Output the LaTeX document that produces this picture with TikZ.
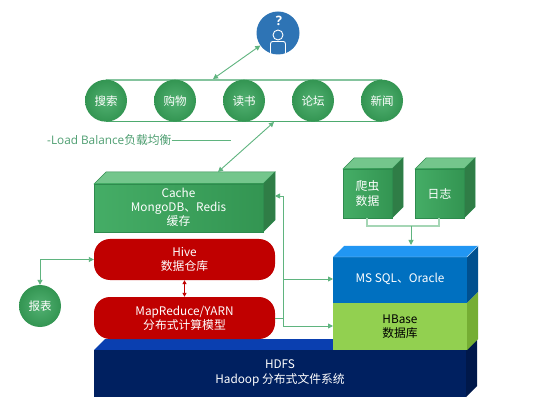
\documentclass[tikz,border=0pt]{standalone}
\usepackage{fontspec}
\setmainfont{Open Sans}
\newfontfamily\cjk{Noto Sans CJK SC}
\usetikzlibrary{arrows.meta}
\definecolor{gmid}{HTML}{3FA862}
\definecolor{gline}{HTML}{5FB47F}
\definecolor{gpale}{HTML}{A5D6B5}
\definecolor{gtop}{HTML}{74C68C}
\definecolor{gside}{HTML}{2F7D46}
\definecolor{gedge}{HTML}{2E8B4E}
\definecolor{gleft}{HTML}{45AD66}
\definecolor{gright}{HTML}{339552}
\definecolor{barup}{HTML}{85C49E}
\definecolor{bardown}{HTML}{4DAA6E}
\definecolor{redbox}{HTML}{C00000}
\definecolor{bfront}{HTML}{0070C0}
\definecolor{btop}{HTML}{2196F3}
\definecolor{bside}{HTML}{00508F}
\definecolor{lfront}{HTML}{92D050}
\definecolor{lside}{HTML}{75AE33}
\definecolor{nfront}{HTML}{002060}
\definecolor{ntop}{HTML}{0A3FB0}
\definecolor{nside}{HTML}{00184A}
\definecolor{lbtext}{HTML}{4F9F72}
\definecolor{person}{HTML}{2E74B5}
\tikzset{
  x=1pt,y=-1pt,
  txt/.style={align=center,text=white,inner sep=0pt,font=\fontsize{11.8}{14.2}\selectfont\cjk},
  dtxt/.style={align=center,text=black,inner sep=0pt,font=\fontsize{11.8}{14.2}\selectfont\cjk},
  site/.style={circle,minimum size=42pt,inner sep=0pt,inner color=gmid!90!white,outer color=gright,text=white,font=\fontsize{11.5}{12}\selectfont\cjk},
  pill/.style={rounded corners=16pt,fill=redbox,draw=none,minimum height=41pt,text width=181pt,inner sep=0pt,align=center,text=white,font=\fontsize{11.8}{14.2}\selectfont\cjk},
  garrow/.style={draw=gline,line width=0.9pt,{Triangle[length=5pt,width=5pt]}-{Triangle[length=5pt,width=5pt]}},
  gsingle/.style={draw=gline,line width=0.9pt,-{Triangle[length=5pt,width=5pt]}},
  gplain/.style={draw=gline,line width=0.9pt},
  gpaleline/.style={draw=gpale,line width=1.1pt},
  greenfront/.style={left color=gleft,right color=gright},
  greentop/.style={fill=gtop,draw=gedge,line width=0.5pt},
  greenside/.style={fill=gside,draw=gedge,line width=0.5pt},
}
\newcommand{\cubefaces}[8]{%
  \fill[#7] (#1,#2) -- (#1+#5,#2-#5) -- (#3+#5,#2-#5) -- (#3,#2) -- cycle;
  \fill[#8] (#3,#2) -- (#3+#5,#2-#5) -- (#3+#5,#4-#5) -- (#3,#4) -- cycle;
  \fill[#6] (#1,#2) rectangle (#3,#4);
}
\newcommand{\greencube}[5]{%
  \draw[greentop] (#1,#2) -- (#1+#5,#2-#5) -- (#3+#5,#2-#5) -- (#3,#2) -- cycle;
  \draw[greenside] (#3,#2) -- (#3+#5,#2-#5) -- (#3+#5,#4-#5) -- (#3,#4) -- cycle;
  \shade[greenfront] (#1,#2) rectangle (#3,#4);
  \draw[gedge,line width=0.5pt] (#1,#2) rectangle (#3,#4);
}
\begin{document}
\begin{tikzpicture}
\useasboundingbox (0,0) rectangle (535,403);
\fill[white] (0,0) rectangle (535,403);

% HDFS
\cubefaces{94}{350}{466}{397}{11}{nfront}{ntop}{nside}
\node[txt] (hdfs) at (280,373) {HDFS\\Hadoop 分布式文件系统};

% MS SQL / HBase
\cubefaces{333}{257}{467}{303}{11}{bfront}{btop}{bside}
\fill[lside] (467,303) -- (478,292) -- (478,339) -- (467,350) -- cycle;
\fill[lfront] (333,303) rectangle (467,350);
\draw[white!70!bfront,line width=0.4pt] (333,257) -- (467,257) (467,257) -- (478,246);
\node[txt] (sql) at (400,279) {MS SQL、Oracle};
\node[dtxt] (hbase) at (400,326.5) {HBase\\数据库};
\coordinate (sqltop) at (411,245);
\coordinate (sqlleft) at (333,279);
\coordinate (hbaseleft) at (333,326);

% source cubes
\greencube{343}{169}{392}{218}{11}
\greencube{415}{169}{464}{218}{11}
\node[txt] (crawl) at (367.5,193.5) {爬虫\\数据};
\node[txt] (logs) at (439.5,193.5) {日志};
\coordinate (crawlb) at (367,218.5);
\coordinate (logb) at (439,218.5);
\coordinate (join) at (411,226);
\draw[gpaleline] (crawlb) |- (join) (logb) |- (join);
\draw[gsingle] (join) -- (sqltop);

% Cache
\greencube{94}{184}{263}{232}{12}
\node[txt] (cache) at (178.5,207) {Cache\\MongoDB、Redis\\缓存};
\coordinate (cacher) at (275,196);

% Pills
\node[pill] (hive) at (184.5,259.5) {Hive\\数据仓库};
\node[pill,minimum height=42pt] (mr) at (184.5,318) {MapReduce/YARN\\分布式计算模型};
\draw[draw=redbox,line width=0.9pt,{Triangle[length=4pt,width=4pt]}-{Triangle[length=4pt,width=4pt]}] (hive.south) -- (mr.north);

% Right bus
\coordinate (bus) at (283.5,318);
\coordinate (sqlbranch) at (283.5,279);
\draw[gplain] (mr.east) -- (bus);
\draw[gsingle] (bus) |- (cacher);
\draw[gsingle] (sqlbranch) -- (sqlleft);
\draw[gsingle] (bus) |- (hbaseleft);

% Report
\node[site] (report) at (40,306) {报表};
\draw[garrow] (report.north) |- (hive.west);

% Site row
\coordinate (barTL) at (106,80);
\coordinate (barTR) at (382,80);
\coordinate (barBL) at (106,121.5);
\coordinate (barBR) at (382,121.5);
\draw[draw=barup,line width=1.2pt] (barTL) -- (barTR);
\draw[draw=bardown,line width=0.9pt] (barBL) -- (barBR);
\node[site] (s1) at (106,100.7) {搜索};
\node[site] (s2) at (175,100.7) {购物};
\node[site] (s3) at (244,100.7) {读书};
\node[site] (s4) at (313,100.7) {论坛};
\node[site] (s5) at (382,100.7) {新闻};

% Load balance
\node[anchor=west,inner sep=0pt,text=lbtext,font=\fontsize{11.8}{14}\selectfont] (lb) at (47,140) {-Load Balance{\cjk 负载均衡}};
\coordinate (lbend) at (231,140);
\draw[gplain] (lb.east) -- (lbend);

% Double arrows
\coordinate (cachetop) at (218,172);
\coordinate (barpt) at (274,122);
\draw[garrow] (cachetop) -- (barpt);

% Person
\node[circle,fill=person,minimum size=43pt,inner sep=0pt] (user) at (278,33) {};
\node[text=white,inner sep=0pt,font=\bfseries\fontsize{13}{13}\selectfont] (q) at (279,20.5) {?};
\draw[white,line width=0.9pt] (278,35) circle (5pt);
\draw[white,line width=0.9pt] (270.5,53.5) -- (270.5,44) .. controls (270.5,42) and (271.5,41.5) .. (273,41.5) -- (283,41.5) .. controls (284.5,41.5) and (285.5,42) .. (285.5,44) -- (285.5,53.5);
\coordinate (barmid) at (213,79);
\draw[garrow] (barmid) -- (user);
\end{tikzpicture}
\end{document}
